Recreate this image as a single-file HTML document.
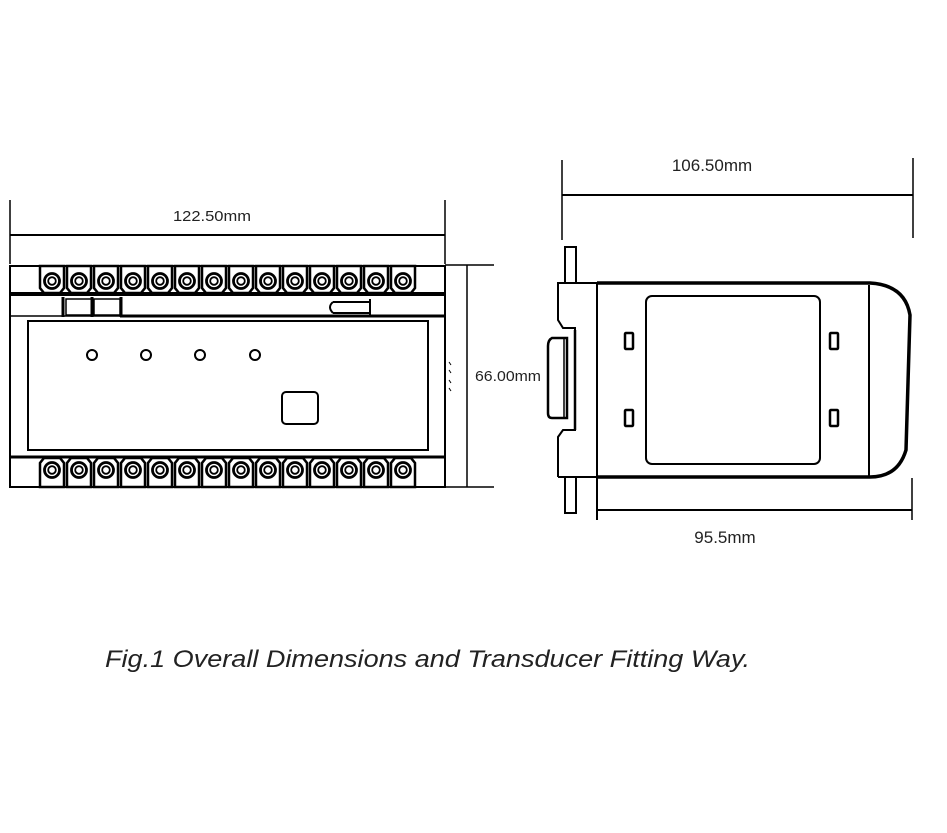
<!DOCTYPE html>
<html><head><meta charset="utf-8"><style>
html,body{margin:0;padding:0;background:#fff;}
svg{display:block;}
text{font-family:"Liberation Sans",sans-serif;fill:#222;}
</style></head><body>
<svg width="947" height="833" viewBox="0 0 947 833" xmlns="http://www.w3.org/2000/svg">
<defs>
<g id="tt">
  <path d="M0,0 H24 V22 L20,27 H4 L0,22 Z" fill="#fff" stroke="#000" stroke-width="2.5"/>
  <circle cx="12" cy="15" r="7.5" fill="none" stroke="#000" stroke-width="2.8"/>
  <circle cx="12" cy="15" r="3.8" fill="none" stroke="#000" stroke-width="1.8"/>
</g>
<g id="tb">
  <path d="M4,0 H20 L24,5 V29 H0 V5 Z" fill="#fff" stroke="#000" stroke-width="2.5"/>
  <circle cx="12" cy="12" r="7.5" fill="none" stroke="#000" stroke-width="2.8"/>
  <circle cx="12" cy="12" r="3.8" fill="none" stroke="#000" stroke-width="1.8"/>
</g>
</defs>
<g fill="none" stroke="#000">
  <rect x="10" y="266" width="435" height="221" stroke-width="2"/>
  <line x1="10" y1="294" x2="445" y2="294" stroke-width="4"/>
  <line x1="10" y1="316" x2="62" y2="316" stroke-width="1.5"/>
  <line x1="62" y1="316" x2="445" y2="316" stroke-width="1.5"/>
  <line x1="120" y1="316" x2="445" y2="316" stroke-width="3"/>
  <rect x="66" y="299" width="26" height="16" stroke-width="1.5"/>
  <rect x="94" y="299" width="26" height="16" stroke-width="1.5"/>
  <line x1="63" y1="297" x2="63" y2="317" stroke-width="3"/>
  <line x1="92" y1="297" x2="92" y2="317" stroke-width="3"/>
  <line x1="121" y1="297" x2="121" y2="317" stroke-width="3"/>
  <path d="M333,302 H370 M333,313 H370 M333,302 Q327,307 333,313 M370,299 V315" stroke-width="2"/>
  <rect x="28" y="321" width="400" height="129" stroke-width="2"/>
  <line x1="10" y1="457" x2="445" y2="457" stroke-width="3"/>
  <circle cx="92" cy="355" r="5" stroke-width="2"/>
  <circle cx="146" cy="355" r="5" stroke-width="2"/>
  <circle cx="200" cy="355" r="5" stroke-width="2"/>
  <circle cx="255" cy="355" r="5" stroke-width="2"/>
  <rect x="282" y="392" width="36" height="32" rx="4" stroke-width="2"/>
  <path d="M449,362 l2,3 M449,370 l2,3 M449,380 l2,3 M449,388 l2,3" stroke-width="1"/>
  <line x1="10" y1="200" x2="10" y2="264" stroke-width="1.5"/>
  <line x1="445" y1="200" x2="445" y2="264" stroke-width="1.5"/>
  <line x1="10" y1="235" x2="445" y2="235" stroke-width="2"/>
  <line x1="445" y1="265" x2="494" y2="265" stroke-width="1.5"/>
  <line x1="445" y1="487" x2="494" y2="487" stroke-width="1.5"/>
  <line x1="467" y1="265" x2="467" y2="487" stroke-width="1.5"/>
  <line x1="562" y1="160" x2="562" y2="240" stroke-width="1.5"/>
  <line x1="913" y1="158" x2="913" y2="238" stroke-width="1.5"/>
  <line x1="562" y1="195" x2="913" y2="195" stroke-width="2"/>
  <rect x="565" y="247" width="11" height="36" stroke-width="2"/>
  <rect x="565" y="477" width="11" height="36" stroke-width="2"/>
  <path d="M597,283 H870 Q905,285 910,315 L906,450 Q898,477 870,477 H597" stroke-width="3.5"/>
  <path d="M597,283 H558 V320 L563,328 H575 V340" stroke-width="2"/>
  <path d="M558,477 H597 M558,477 V437 L563,430 H575 V420" stroke-width="2"/>
  <line x1="597" y1="283" x2="597" y2="520" stroke-width="2"/>
  <line x1="869" y1="285" x2="869" y2="477" stroke-width="2"/>
  <path d="M575,330 L575,430 M567,338 H552 Q548,340 548,346 V413 Q548,418 552,418 H567 Z" stroke-width="2.5"/>
  <line x1="564" y1="338" x2="564" y2="418" stroke-width="1.5"/>
  <rect x="646" y="296" width="174" height="168" rx="6" stroke-width="2"/>
  <rect x="625" y="333" width="8" height="16" rx="1" stroke-width="2.5"/>
  <rect x="625" y="410" width="8" height="16" rx="1" stroke-width="2.5"/>
  <rect x="830" y="333" width="8" height="16" rx="1" stroke-width="2.5"/>
  <rect x="830" y="410" width="8" height="16" rx="1" stroke-width="2.5"/>
  <line x1="912" y1="478" x2="912" y2="520" stroke-width="1.5"/>
  <line x1="597" y1="510" x2="912" y2="510" stroke-width="2"/>
</g>
<g>
<use href="#tt" x="40" y="266"/><use href="#tt" x="67" y="266"/><use href="#tt" x="94" y="266"/><use href="#tt" x="121" y="266"/><use href="#tt" x="148" y="266"/><use href="#tt" x="175" y="266"/><use href="#tt" x="202" y="266"/><use href="#tt" x="229" y="266"/><use href="#tt" x="256" y="266"/><use href="#tt" x="283" y="266"/><use href="#tt" x="310" y="266"/><use href="#tt" x="337" y="266"/><use href="#tt" x="364" y="266"/><use href="#tt" x="391" y="266"/>
<use href="#tb" x="40" y="458"/><use href="#tb" x="67" y="458"/><use href="#tb" x="94" y="458"/><use href="#tb" x="121" y="458"/><use href="#tb" x="148" y="458"/><use href="#tb" x="175" y="458"/><use href="#tb" x="202" y="458"/><use href="#tb" x="229" y="458"/><use href="#tb" x="256" y="458"/><use href="#tb" x="283" y="458"/><use href="#tb" x="310" y="458"/><use href="#tb" x="337" y="458"/><use href="#tb" x="364" y="458"/><use href="#tb" x="391" y="458"/>
</g>
<text x="212" y="221" font-size="15" text-anchor="middle" textLength="78" lengthAdjust="spacingAndGlyphs">122.50mm</text>
<text x="712" y="171" font-size="17" text-anchor="middle">106.50mm</text>
<text x="475" y="381" font-size="15" textLength="66" lengthAdjust="spacingAndGlyphs">66.00mm</text>
<text x="725" y="543" font-size="17" text-anchor="middle">95.5mm</text>
<text x="105" y="667" font-size="24" font-style="italic" textLength="645" lengthAdjust="spacingAndGlyphs">Fig.1 Overall Dimensions and Transducer Fitting Way.</text>
</svg>
</body></html>
